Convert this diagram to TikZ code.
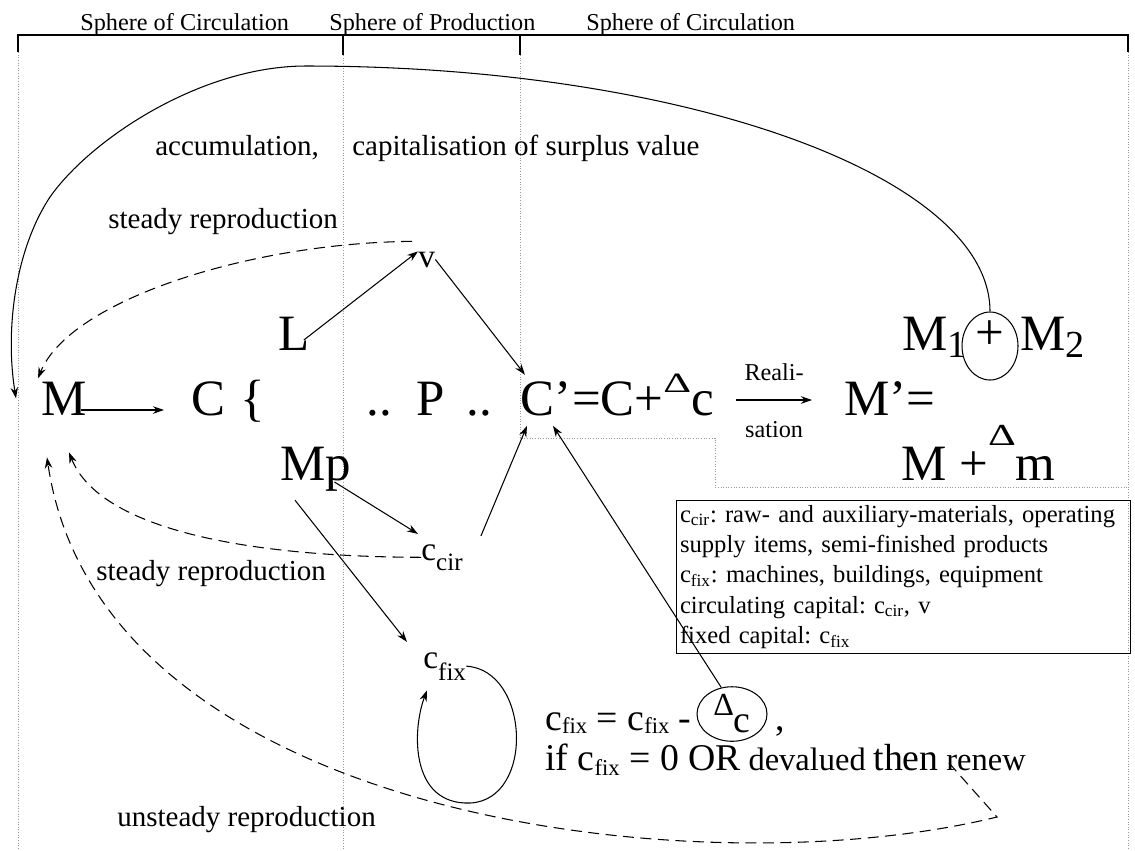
\documentclass[tikz,border=0pt]{standalone}
\usepackage{fontspec}
\setmainfont{Liberation Serif}
\usepackage{graphicx}
\usetikzlibrary{arrows.meta, positioning, shapes.geometric}

\newcommand{\lowsub}[3]{\raisebox{-#1em}{\scalebox{#2}{#3}}}
\newcommand{\highsup}[4]{\raisebox{#1em}{\scalebox{#2}[#3]{#4}}}

\begin{document}
\begin{tikzpicture}[
    x=0.02cm, y=-0.02cm,
    bigtxt/.style={font=\fontsize{29}{30}\selectfont, inner sep=0pt, anchor=base west},
    vartxt/.style={font=\fontsize{19}{20}\selectfont, inner sep=0pt, anchor=base west},
    eqtxt/.style={font=\fontsize{21.5}{24}\selectfont, inner sep=0pt, anchor=base west},
    eqsmall/.style={font=\fontsize{18.5}{20}\selectfont, inner sep=0pt, anchor=base west},
    midtxt/.style={font=\fontsize{16.5}{18}\selectfont, inner sep=0pt, anchor=base west},
    smalltxt/.style={font=\fontsize{13.8}{16}\selectfont, inner sep=0pt, anchor=base west},
    legendbox/.style={draw, line width=0.6pt, align=left, text width=8.94cm, inner xsep=2pt, inner ysep=2.5pt,
        font=\fontsize{14}{17.3}\selectfont\frenchspacing, anchor=north west},
    arrow/.style={-{Stealth[length=2.2mm, width=1.5mm]}, line width=0.6pt},
    dashed arrow/.style={arrow, dash pattern=on 2.2mm off 1.3mm},
    divider/.style={densely dotted, gray!80, line width=0.5pt},
]
\useasboundingbox (0,0) rectangle (1135,850);

% Spheres
\draw[line width=0.6pt] (18,52) -- (18,35) -- (1128,35) -- (1128,52);
\draw[line width=0.6pt] (343,35) -- (343,55);
\draw[line width=0.6pt] (520,35) -- (520,55);
\draw[divider] (18,52) -- (18,850);
\draw[divider] (343,55) -- (343,850);
\draw[divider] (1128,52) -- (1128,850);
\draw[divider] (520,55) -- (520,438) -- (715,438) -- (715,487) -- (1128,487);

\node[smalltxt] (sphcirca) at (80,30) {Sphere of Circulation};
\node[smalltxt] (sphprod) at (329,30) {Sphere of Production};
\node[smalltxt] (sphcircb) at (586,30) {Sphere of Circulation};

% Labels
\node[midtxt] (accum) at (155,155) {accumulation,};
\node[midtxt] (capital) at (352,155) {capitalisation of surplus value};
\node[midtxt] (steadya) at (108,228) {steady reproduction};
\node[midtxt] (steadyb) at (96,580) {steady reproduction};
\node[midtxt] (unsteady) at (117,826) {unsteady reproduction};

% Circuit
\node[bigtxt] (M) at (41,415) {M};
\node[bigtxt] (C) at (191,415) {C};
\node[bigtxt] (brace) at (240,415) {\{};
\node[bigtxt] (L) at (278,350) {L};
\node[bigtxt] (Mp) at (280,480) {Mp};
\node[bigtxt] (dotsa) at (366,415) {..};
\node[bigtxt] (P) at (416,415) {P};
\node[bigtxt] (dotsb) at (466,415) {..};
\node[bigtxt] (Cp) at (520,415) {C’};
\node[bigtxt] (Ceq) at (Cp.base east) {=C+\highsup{0.45}{0.85}{0.55}{Δ}c};
\node[bigtxt] (Mprime) at (844,415) {M’=};
\node[bigtxt] (Msum) at (901,480) {M +\highsup{0.68}{0.85}{0.6}{Δ}m};
\node[bigtxt] (Ma) at (902,350) {M\lowsub{0.14}{0.75}{1}};
\node[draw, ellipse, line width=0.6pt, minimum width=1.12cm, minimum height=1.36cm, inner sep=0pt] (plus) at (990,346) {};
\node[bigtxt, anchor=center] (plussign) at (990,335) {+};
\node[bigtxt] (Mb) at (1020,350) {M\lowsub{0.14}{0.75}{2}};

\node[vartxt] (v) at (418,267) {v};
\node[vartxt] (ccir) at (421,560) {c\lowsub{0.3}{0.75}{cir}};
\node[vartxt] (cfix) at (423,668) {c\lowsub{0.36}{0.75}{fix}};

% Depreciation
\node[eqtxt] (fixeq) at (545,730) {c\lowsub{0.1}{0.6}{fix} = c\lowsub{0.1}{0.6}{fix} -};
\node[draw, ellipse, line width=0.6pt, minimum width=1.4cm, minimum height=0.76cm, inner sep=0pt,
    font=\fontsize{21.5}{24}\selectfont] (dc) at (732,714) {\highsup{0.45}{0.85}{0.85}{Δ}c};
\node[eqtxt] (comma) at (775,730) {,};
\node[eqtxt] (ifline) at (545,770) {if c\lowsub{0.15}{0.6}{fix} = 0 OR};
\node[eqsmall] (deval) at ([xshift=4pt]ifline.base east) {devalued};
\node[eqtxt] (thenw) at ([xshift=4pt]deval.base east) {then};
\node[eqsmall] (renew) at ([xshift=4pt]thenw.base east) {renew};

% Legend
\node[legendbox] (legend) at (676,500) {c\textsubscript{cir}: raw- and auxiliary-materials, operating\\
supply items, semi-finished products\\
c\textsubscript{fix}: machines, buildings, equipment\\
circulating capital: c\textsubscript{cir}, v\\
fixed capital: c\textsubscript{fix}};

% Arrows
\draw[arrow] ([shift={(-6,-5)}]M.base east) -- ([shift={(-27,-5)}]C.base west);
\draw[arrow] ([shift={(-6,-10)}]L.base east) -- (v.north west);
\draw[arrow] (v.east) -- ([shift={(5,-6)}]Cp.north west);
\draw[arrow] ([shift={(-17,2)}]Mp.base east) -- ([shift={(-3,-10)}]ccir.north west);
\draw[arrow] ([shift={(18,-8)}]ccir.north east) -- ([shift={(7,10)}]Cp.south west);
\draw[arrow] ([shift={(15,9)}]Mp.south west) -- ([shift={(-16,-10)}]cfix.north west);
\draw[arrow] (dc.112) -- ([shift={(33,10)}]Cp.south west);
\draw[arrow] ([shift={(22,-15)}]Ceq.base east) -- ([shift={(-32,-15)}]Mprime.base west)
    node[smalltxt, midway, anchor=base, yshift=0.4cm] (reali) {Reali-}
    node[smalltxt, midway, anchor=base, yshift=-0.74cm] (sation) {sation};

% fixed capital loop
\coordinate (loopbottom) at (470,803);
\draw[arrow] (cfix.east) .. controls (530,670) and (535,800) .. (loopbottom)
    .. controls (410,805) and (412,730) .. ([shift={(4,10)}]cfix.south west);

% Accumulation
\draw[arrow] (plus.north) .. controls (990,176) and (684,66) .. (306,66)
    .. controls (200,66) and (90,140) .. (50,197)
    .. controls (15,250) and (5,330) .. ([shift={(-25,0)}]M.west);

% Reproduction
\draw[dashed arrow] ([shift={(-6,-10)}]v.north west) .. controls (250,243) and (70,300) .. ([shift={(-3,-3)}]M.north west);
\draw[dashed arrow] (ccir.west) .. controls (250,557) and (100,530) .. ([shift={(5,37)}]M.south);
\coordinate (kink) at (997,817);
\draw[dashed arrow] ([shift={(3,-7)}]renew.base west) -- (kink)
    .. controls (700,890) and (100,820) .. ([shift={(-17,42)}]M.south);

\end{tikzpicture}
\end{document}
